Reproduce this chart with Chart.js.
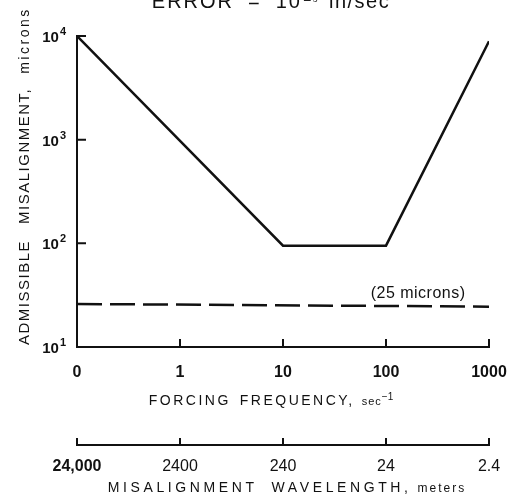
<!DOCTYPE html>
<html>
<head>
<meta charset="utf-8">
<script src="https://cdn.jsdelivr.net/npm/chart.js@4.4.1/dist/chart.umd.min.js"></script>
<style>
  html, body { margin: 0; padding: 0; background: #fff; }
  #wrap { width: 510px; height: 500px; }
</style>
</head>
<body>
<div id="wrap"><canvas id="chartLine"></canvas></div>
<script>
// axis values
const freqTicks = [0.1, 1, 10, 100, 1000];
const freqLabels = ['0', '1', '10', '100', '1000'];
const wavelengthLabels = ['24,000', '2400', '240', '24', '2.4'];
const micronTicks = [10, 100, 1000, 10000];
const micronExp = ['1', '2', '3', '4'];

// admissible misalignment limit
const limitFreq = [0.1, 10, 100, 1000];
const limitMicrons = [10000, 95, 95, 8900];

// 25 micron guide line
const guideFreq = [0.1, 1000];
const guideMicrons = [26, 24.5];

const ink = '#111';
const fontFam = '"Liberation Sans", Arial, sans-serif';

// draw a run of text pieces left to right, each with its own font / spacing
function drawRun(c, parts, cx, y) {
  let total = 0;
  parts.forEach(p => {
    c.font = p.font; c.letterSpacing = p.ls + 'px';
    p.w = c.measureText(p.text).width;
    total += p.w + (p.gap || 0);
  });
  let x = cx - total / 2;
  parts.forEach(p => {
    c.font = p.font; c.letterSpacing = p.ls + 'px';
    c.fillText(p.text, x, y + (p.dy || 0));
    x += p.w + (p.gap || 0);
  });
}

const extras = {
  id: 'extras',
  afterDraw(chart) {
    const c = chart.ctx;
    const x = chart.scales.x, y = chart.scales.y, x2 = chart.scales.x2;
    c.save();
    c.strokeStyle = ink;
    c.lineWidth = 2;
    c.beginPath();
    // y ticks point inward
    micronTicks.forEach(v => {
      const py = y.getPixelForValue(v);
      c.moveTo(x.left, py); c.lineTo(x.left + 9, py);
    });
    // x ticks point up
    freqTicks.slice(1).forEach(v => {
      const px = x.getPixelForValue(v);
      c.moveTo(px, y.bottom); c.lineTo(px, y.bottom - 8);
    });
    // wavelength scale ticks
    freqTicks.forEach(v => {
      const px = x2.getPixelForValue(v);
      c.moveTo(px, x2.top); c.lineTo(px, x2.top - 7);
    });
    c.stroke();

    c.fillStyle = ink;
    c.textAlign = 'left';
    c.textBaseline = 'alphabetic';

    // y tick labels: 10 with raised exponent
    micronTicks.forEach((v, i) => {
      const py = y.getPixelForValue(v);
      c.letterSpacing = '0px';
      c.font = 'bold 11px ' + fontFam;
      const ew = c.measureText(micronExp[i]).width;
      c.font = 'bold 15px ' + fontFam;
      const bw = c.measureText('10').width;
      const right = 66;
      c.fillText('10', right - ew - bw - 1, py + 6);
      c.font = 'bold 11px ' + fontFam;
      c.fillText(micronExp[i], right - ew, py - 1);
    });

    // cut-off heading
    drawRun(c, [
      { text: 'ERROR', font: '20px ' + fontFam, ls: 2, gap: 14 },
      { text: '=', font: '20px ' + fontFam, ls: 0, gap: 16 },
      { text: '10', font: '20px ' + fontFam, ls: 2, gap: 1 },
      { text: '\u2212\u2075', font: '14px ' + fontFam, ls: 1, gap: 10, dy: -3 },
      { text: 'in/sec', font: '20px ' + fontFam, ls: 1.5 }
    ], 271, 8);

    // annotation on the dashed line
    drawRun(c, [{ text: '(25 microns)', font: '16px ' + fontFam, ls: 0.5 }],
      x.getPixelForValue(205), y.getPixelForValue(29.5));

    // axis titles
    drawRun(c, [
      { text: 'FORCING', font: '14px ' + fontFam, ls: 2.5, gap: 9 },
      { text: 'FREQUENCY,', font: '14px ' + fontFam, ls: 2.5, gap: 7 },
      { text: 'sec', font: '11px ' + fontFam, ls: 1 },
      { text: '\u22121', font: '10px ' + fontFam, ls: 0, dy: -5 }
    ], 271, 405);
    drawRun(c, [
      { text: 'MISALIGNMENT', font: '14px ' + fontFam, ls: 3.6, gap: 14 },
      { text: 'WAVELENGTH,', font: '14px ' + fontFam, ls: 3.6, gap: 6 },
      { text: 'meters', font: '12px ' + fontFam, ls: 2 }
    ], 287, 492);

    // y title, rotated
    c.translate(29, 345);
    c.rotate(-Math.PI / 2);
    let pos = 0;
    [
      { text: 'ADMISSIBLE', font: '15px ' + fontFam, ls: 1.5, gap: 16 },
      { text: 'MISALIGNMENT,', font: '15px ' + fontFam, ls: 1.5, gap: 14 },
      { text: 'microns', font: '14px ' + fontFam, ls: 2.5 }
    ].forEach(p => {
      c.font = p.font; c.letterSpacing = p.ls + 'px';
      c.fillText(p.text, pos, 0);
      pos += c.measureText(p.text).width + (p.gap || 0);
    });
    c.restore();
  }
};

const data = {
  datasets: [
    {
      label: 'limit',
      data: limitFreq.map((f, i) => ({ x: f, y: limitMicrons[i] })),
      borderColor: ink,
      borderWidth: 2.5,
      pointRadius: 0,
      tension: 0
    },
    {
      label: '25 microns',
      data: guideFreq.map((f, i) => ({ x: f, y: guideMicrons[i] })),
      borderColor: ink,
      borderWidth: 2.5,
      borderDash: [25, 8],
      pointRadius: 0
    }
  ]
};

// keep end labels from pushing the plot area in
const fixX = h => s => { s.height = h; s.paddingLeft = 0; s.paddingRight = 0; };

const configLineChart = {
  type: 'line',
  data,
  options: {
    responsive: true,
    maintainAspectRatio: false,
    animation: false,
    layout: { padding: { left: 0, right: 21, top: 36, bottom: 0 } },
    plugins: { legend: { display: false }, tooltip: { enabled: false } },
    scales: {
      x: {
        type: 'logarithmic',
        position: 'bottom',
        min: 0.1,
        max: 1000,
        afterBuildTicks: s => { s.ticks = freqTicks.map(v => ({ value: v })); },
        afterFit: fixX(98),
        grid: { display: false },
        border: { display: true, color: ink, width: 2 },
        ticks: {
          autoSkip: false, maxRotation: 0, padding: 8, color: ink,
          font: { family: fontFam, size: 16, weight: 'bold' },
          callback: (v, i) => freqLabels[i]
        }
      },
      x2: {
        type: 'logarithmic',
        axis: 'x',
        position: 'bottom',
        min: 0.1,
        max: 1000,
        afterBuildTicks: s => { s.ticks = freqTicks.map(v => ({ value: v })); },
        afterFit: fixX(55),
        grid: { display: false },
        border: { display: true, color: ink, width: 2 },
        ticks: {
          autoSkip: false, maxRotation: 0, padding: 4, color: ink,
          font: ctx => ({ family: fontFam, size: 16, weight: ctx.index === 0 ? 'bold' : 'normal' }),
          callback: (v, i) => wavelengthLabels[i]
        }
      },
      y: {
        type: 'logarithmic',
        min: 10,
        max: 10000,
        afterBuildTicks: s => { s.ticks = micronTicks.map(v => ({ value: v })); },
        afterFit: s => { s.width = 77; },
        grid: { display: false },
        border: { display: true, color: ink, width: 2 },
        ticks: { display: false }
      }
    }
  },
  plugins: [extras]
};

var chartLine = new Chart(document.getElementById('chartLine'), configLineChart);
</script>
</body>
</html>
